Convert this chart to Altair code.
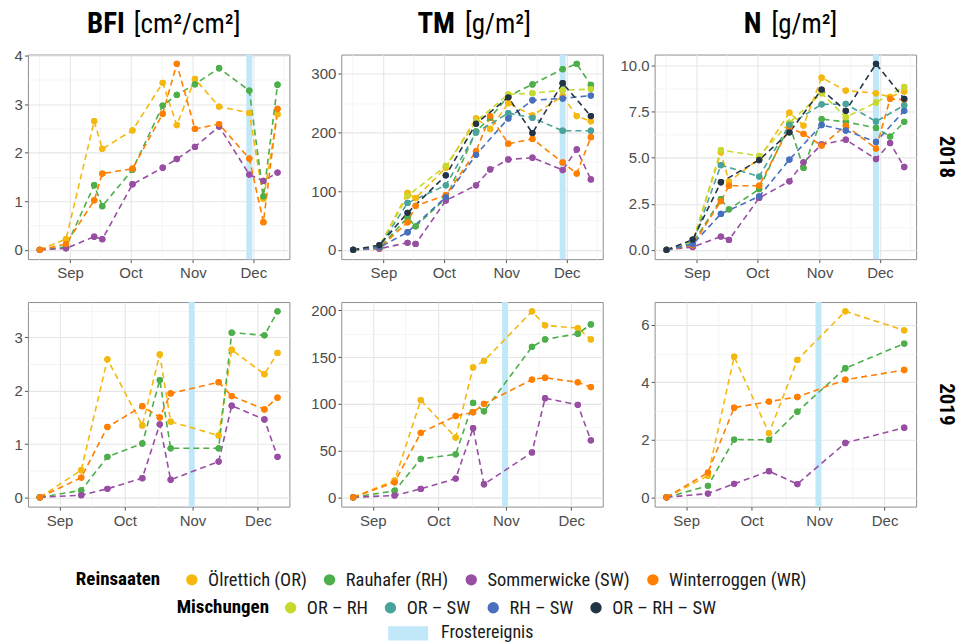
import altair as alt
import pandas as pd

# ---------------- data ----------------
PURE = ["Ölrettich (OR)", "Rauhafer (RH)", "Sommerwicke (SW)", "Winterroggen (WR)"]
MIX = ["OR – RH", "OR – SW", "RH – SW", "OR – RH – SW"]
PURE_COLORS = ["#F4B80F", "#4DAF4A", "#984EA3", "#FF7F00"]
MIX_COLORS = ["#C8D92E", "#4AA39B", "#4870BE", "#243447"]
FROST_COLOR = "#C0E8F9"
FROST_LABEL = "Frostereignis"

DATES_2018_PURE = ["2018-08-17", "2018-08-30", "2018-09-13", "2018-09-17", "2018-10-02", "2018-10-17",
                   "2018-10-24", "2018-11-02", "2018-11-14", "2018-11-29", "2018-12-06", "2018-12-13"]
DATES_2018_MIX = ["2018-08-17", "2018-08-30", "2018-09-13", "2018-10-02", "2018-10-17",
                  "2018-11-02", "2018-11-14", "2018-11-29", "2018-12-13"]
DATES_2019 = ["2019-08-23", "2019-09-11", "2019-09-23", "2019-10-09", "2019-10-17",
              "2019-10-22", "2019-11-13", "2019-11-19", "2019-12-04", "2019-12-10"]
DATES_2019_N = ["2019-08-23", "2019-09-11", "2019-09-23", "2019-10-09", "2019-10-22",
                "2019-11-13", "2019-12-10"]
FROST_DATES = {2018: "2018-11-29T00:00:00Z", 2019: "2019-10-31T16:00:00Z"}

# BFI 2018 (pure stands)
BFI18_OR = [0, 0.22, 2.65, 2.08, 2.46, 3.44, 2.57, 3.52, 2.95, 2.82, 1.05, 2.79]
BFI18_RH = [0, 0.06, 1.33, 0.90, 1.65, 2.97, 3.19, 3.41, 3.74, 3.28, 1.10, 3.40]
BFI18_SW = [0, 0.03, 0.27, 0.22, 1.35, 1.69, 1.87, 2.12, 2.54, 1.55, 1.42, 1.59]
BFI18_WR = [0, 0.12, 1.02, 1.57, 1.67, 2.80, 3.83, 2.49, 2.59, 1.88, 0.57, 2.90]

# TM 2018
TM18_OR = [0, 5, 97, 88, 140, 224, 206, 250, 229, 262, 228, 219]
TM18_RH = [0, 3, 55, 40, 88, 202, 225, 262, 282, 308, 317, 281]
TM18_SW = [0, 2, 12, 10, 84, 110, 137, 154, 157, 136, 171, 120]
TM18_WR = [0, 3, 47, 75, 93, 168, 228, 181, 189, 149, 130, 192]
TM18_ORRH = [0, 6, 92, 143, 219, 265, 267, 272, 274]
TM18_ORSW = [0, 5, 80, 110, 200, 233, 225, 203, 203]
TM18_RHSW = [0, 4, 30, 90, 162, 224, 255, 258, 263]
TM18_ORRHSW = [0, 8, 63, 127, 215, 260, 199, 284, 228]

# N 2018
N18_OR = [0, 0.40, 5.30, 3.70, 4.95, 7.45, 6.75, 9.35, 8.65, 8.50, 8.30, 8.60]
N18_RH = [0, 0.35, 2.75, 2.20, 3.30, 6.80, 4.45, 7.10, 6.95, 6.62, 6.15, 6.95]
N18_SW = [0, 0.15, 0.72, 0.54, 2.82, 3.72, 4.75, 5.72, 5.98, 4.93, 5.80, 4.50]
N18_WR = [0, 0.25, 2.65, 3.48, 3.48, 6.65, 6.30, 5.66, 6.75, 5.50, 8.20, 8.15]
N18_ORRH = [0, 0.45, 5.42, 5.10, 6.90, 8.50, 7.20, 8.00, 8.85]
N18_ORSW = [0, 0.35, 4.60, 3.98, 6.80, 7.90, 7.92, 6.97, 7.85]
N18_RHSW = [0, 0.30, 1.95, 2.90, 4.90, 6.78, 6.48, 5.86, 7.55]
N18_ORRHSW = [0, 0.55, 3.67, 4.88, 6.38, 8.70, 7.55, 10.10, 8.20]

# BFI 2019
BFI19_OR = [0, 0.51, 2.59, 1.35, 2.68, 1.42, 1.16, 2.77, 2.31, 2.71]
BFI19_RH = [0, 0.13, 0.76, 1.01, 2.20, 0.92, 0.92, 3.09, 3.04, 3.49]
BFI19_SW = [0, 0.04, 0.16, 0.36, 1.37, 0.33, 0.67, 1.72, 1.46, 0.76]
BFI19_WR = [0, 0.37, 1.32, 1.71, 1.50, 1.95, 2.16, 1.90, 1.65, 1.87]

# TM 2019
TM19_OR = [0, 18, 104, 64, 139, 146, 199, 184, 181, 169]
TM19_RH = [0, 7, 41, 46, 101, 92, 161, 169, 175, 185]
TM19_SW = [0, 2, 9, 20, 74, 14, 48, 106, 99, 61]
TM19_WR = [0, 16, 69, 87, 91, 100, 126, 128, 123, 118]

# N 2019
N19_OR = [0, 0.75, 4.89, 2.23, 4.78, 6.47, 5.81]
N19_RH = [0, 0.40, 2.01, 2.00, 2.98, 4.49, 5.35]
N19_SW = [0, 0.13, 0.47, 0.91, 0.46, 1.89, 2.42]
N19_WR = [0, 0.86, 3.12, 3.33, 3.49, 4.09, 4.43]

# ---------------- table ----------------
records = []


def add(var, year, group, dates, names, series):
    for name, vals in zip(names, series):
        for d, v in zip(dates, vals):
            records.append(dict(var=var, year=year, group=group, name=name, date=d, value=v))


add("BFI", 2018, "pure", DATES_2018_PURE, PURE, [BFI18_OR, BFI18_RH, BFI18_SW, BFI18_WR])
add("TM", 2018, "pure", DATES_2018_PURE, PURE, [TM18_OR, TM18_RH, TM18_SW, TM18_WR])
add("TM", 2018, "mix", DATES_2018_MIX, MIX, [TM18_ORRH, TM18_ORSW, TM18_RHSW, TM18_ORRHSW])
add("N", 2018, "pure", DATES_2018_PURE, PURE, [N18_OR, N18_RH, N18_SW, N18_WR])
add("N", 2018, "mix", DATES_2018_MIX, MIX, [N18_ORRH, N18_ORSW, N18_RHSW, N18_ORRHSW])
add("BFI", 2019, "pure", DATES_2019, PURE, [BFI19_OR, BFI19_RH, BFI19_SW, BFI19_WR])
add("TM", 2019, "pure", DATES_2019, PURE, [TM19_OR, TM19_RH, TM19_SW, TM19_WR])
add("N", 2019, "pure", DATES_2019_N, PURE, [N19_OR, N19_RH, N19_SW, N19_WR])
df = pd.DataFrame(records)

# ---------------- styling ----------------
W, H = 262, 205
NARROW = "Liberation Sans Narrow, Roboto Condensed, DejaVu Sans Condensed, Arial Narrow, sans-serif"
AXFONT = "Liberation Sans, Arial, Helvetica, sans-serif"
MAJOR_GRID = "#E6E6E6"
MINOR_GRID = "#F1F1F1"


def ms(ts):
    t = pd.Timestamp(ts)
    if t.tzinfo is None:
        t = t.tz_localize("UTC")
    return int(t.timestamp() * 1000)


pure_scale = alt.Scale(domain=PURE, range=PURE_COLORS)
mix_scale = alt.Scale(domain=MIX, range=MIX_COLORS)

LEG_COMMON = dict(direction="horizontal", titleOrient="left", titleFont=NARROW, titleFontSize=19,
                  titleFontWeight="bold", titleColor="black",
                  labelFont=NARROW, labelFontSize=18.5, labelColor="#1A1A1A", labelLimit=400,
                  symbolType="circle", symbolSize=130, symbolStrokeWidth=0,
                  labelOffset=7, columnPadding=13, padding=0)
pure_legend = alt.Legend(orient="none", legendX=48, legendY=517, title="Reinsaaten", titlePadding=22,
                         **LEG_COMMON)
mix_legend = alt.Legend(orient="none", legendX=149, legendY=545, title="Mischungen", titlePadding=12,
                        **LEG_COMMON)
frost_legend = alt.Legend(orient="none", legendX=372, legendY=571, direction="horizontal", title=None,
                          labelFont=NARROW, labelFontSize=18, labelColor="#1A1A1A", labelLimit=400,
                          symbolType="M-4,-1.44H4V1.44H-4Z", symbolSize=100, symbolStrokeWidth=0,
                          symbolFillColor=FROST_COLOR, labelOffset=24, padding=0)

# header: (bold part, normal part, x of bold right edge, x of normal left edge)
HEADERS = {
    "BFI": ("BFI", "[cm²/cm²]", 97, 106),
    "TM": ("TM", "[g/m²]", 114, 124),
    "N": ("N", "[g/m²]", 107, 117),
}
YTICKS = {
    ("BFI", 2018): ([0, 1, 2, 3, 4], [0.5, 1.5, 2.5, 3.5], "d"),
    ("TM", 2018): ([0, 100, 200, 300], [50, 150, 250], "d"),
    ("N", 2018): ([0, 2.5, 5, 7.5, 10], [1.25, 3.75, 6.25, 8.75], ".1f"),
    ("BFI", 2019): ([0, 1, 2, 3], [0.5, 1.5, 2.5, 3.5], "d"),
    ("TM", 2019): ([0, 50, 100, 150, 200], [25, 75, 125, 175], "d"),
    ("N", 2019): ([0, 2, 4, 6], [1, 3, 5], "d"),
}


def panel(var, year, top=False, right=False):
    d = df[(df["var"] == var) & (df["year"] == year)]
    pure_d = d[d["group"] == "pure"]
    mix_d = d[d["group"] == "mix"]
    dts = pd.to_datetime(d["date"])
    span = dts.max() - dts.min()
    xlo, xhi = dts.min() - 0.05 * span, dts.max() + 0.05 * span
    xdom = [ms(xlo), ms(xhi)]
    vlo, vhi = d["value"].min(), d["value"].max()
    ydom = [vlo - 0.05 * (vhi - vlo), vhi + 0.05 * (vhi - vlo)]
    major_x = [ms(f"{year}-{m:02d}-01") for m in (9, 10, 11, 12)]
    minor_x = [ms(s) for s in (f"{year}-08-16T12:00", f"{year}-09-16", f"{year}-10-16T12:00",
                                f"{year}-11-16", f"{year}-12-16")]
    minor_x = [v for v in minor_x if xdom[0] <= v <= xdom[1]]
    yt, ym, yfmt = YTICKS[(var, year)]
    ym = [v for v in ym if ydom[0] <= v <= ydom[1]]

    xs = alt.Scale(type="utc", domain=xdom, nice=False, padding=0)
    ys = alt.Scale(domain=ydom, nice=False, zero=False, padding=0)

    x_major = alt.Axis(values=major_x, format="%b", title=None, grid=True, gridColor=MAJOR_GRID,
                       gridWidth=1.1, orient="bottom", labelPadding=3)
    y_major = alt.Axis(values=yt, format=yfmt, title=None, grid=True, gridColor=MAJOR_GRID,
                       gridWidth=1.1, orient="left", labelPadding=2)
    x_minor = alt.Axis(values=minor_x, title=None, grid=True, gridColor=MINOR_GRID, gridWidth=0.7,
                       labels=False, ticks=False, domain=False, orient="top")
    y_minor = alt.Axis(values=ym, title=None, grid=True, gridColor=MINOR_GRID, gridWidth=0.7,
                       labels=False, ticks=False, domain=False, orient="right")

    frost_df = pd.DataFrame({"date": [FROST_DATES[year]], "label": [FROST_LABEL]})
    frost = alt.Chart(frost_df).mark_bar(size=6, color=FROST_COLOR).encode(
        x=alt.X("date:T", scale=xs, axis=None),
        opacity=alt.Opacity("label:N", scale=alt.Scale(domain=[FROST_LABEL], range=[1]), legend=frost_legend),
    )

    pt_kw = dict(filled=True, size=40, opacity=1)
    line_kw = dict(strokeDash=[6, 4], strokeWidth=1.6)

    def pts_pure(axis_x, axis_y, legend):
        return alt.Chart(pure_d).mark_point(**pt_kw).encode(
            x=alt.X("date:T", scale=xs, axis=axis_x),
            y=alt.Y("value:Q", scale=ys, axis=axis_y),
            color=alt.Color("name:N", scale=pure_scale, legend=legend),
        )

    def pts_mix(legend):
        return alt.Chart(mix_d).mark_point(**pt_kw).encode(
            x=alt.X("date:T", scale=xs, axis=None),
            y=alt.Y("value:Q", scale=ys, axis=None),
            fill=alt.Fill("name:N", scale=mix_scale, legend=legend),
        )

    # legend-carrying layers come first so their legend definitions win the merge
    layers = [frost, pts_pure(None, None, pure_legend)]
    if len(mix_d):
        layers.append(pts_mix(mix_legend))
    layers.append(alt.Chart(pure_d).mark_line(**line_kw).encode(
        x=alt.X("date:T", scale=xs, axis=x_minor),
        y=alt.Y("value:Q", scale=ys, axis=y_minor),
        color=alt.Color("name:N", scale=pure_scale, legend=None),
    ))
    if len(mix_d):
        layers.append(alt.Chart(mix_d).mark_line(**line_kw).encode(
            x=alt.X("date:T", scale=xs, axis=None),
            y=alt.Y("value:Q", scale=ys, axis=None),
            stroke=alt.Stroke("name:N", scale=mix_scale, legend=None),
        ))
    layers.append(pts_pure(x_major, y_major, None))
    if len(mix_d):
        layers.append(pts_mix(None))

    if top:
        bold, normal, xb, xn = HEADERS[var]
        layers.append(alt.Chart(pd.DataFrame({"t": [bold]})).mark_text(
            font=NARROW, fontSize=29, fontWeight="bold", align="right", baseline="alphabetic",
            color="black").encode(text="t:N", x=alt.value(xb), y=alt.value(-22)))
        layers.append(alt.Chart(pd.DataFrame({"t": [normal]})).mark_text(
            font=NARROW, fontSize=27, fontWeight="normal", align="left", baseline="alphabetic",
            color="black").encode(text="t:N", x=alt.value(xn), y=alt.value(-22)))
    if right:
        layers.append(alt.Chart(pd.DataFrame({"t": [str(year)]})).mark_text(
            font=NARROW, fontSize=21, fontWeight="bold", angle=90, align="center", baseline="middle",
            color="black").encode(text="t:N", x=alt.value(W + 30), y=alt.value(H / 2)))

    return alt.layer(*layers).resolve_axis(x="independent", y="independent").properties(width=W, height=H)


charts = []
for yr in (2018, 2019):
    for i, var in enumerate(("BFI", "TM", "N")):
        charts.append(panel(var, yr, top=(yr == 2018), right=(i == 2)))

chart = alt.concat(*charts, columns=3, spacing={"row": 43, "column": 52}, bounds="flush").properties(
    padding={"left": 13, "top": 8, "right": 0, "bottom": 0}
).configure_view(
    stroke="#8F8F8F", strokeWidth=1
).configure_axis(
    labelFont=AXFONT, labelFontSize=15, labelColor="#4D4D4D", tickColor="#555555",
    tickSize=3.5, domain=False
).configure_legend(
    padding=0
)

chart.save("out.html", embed_options={"renderer": "svg", "actions": False})
